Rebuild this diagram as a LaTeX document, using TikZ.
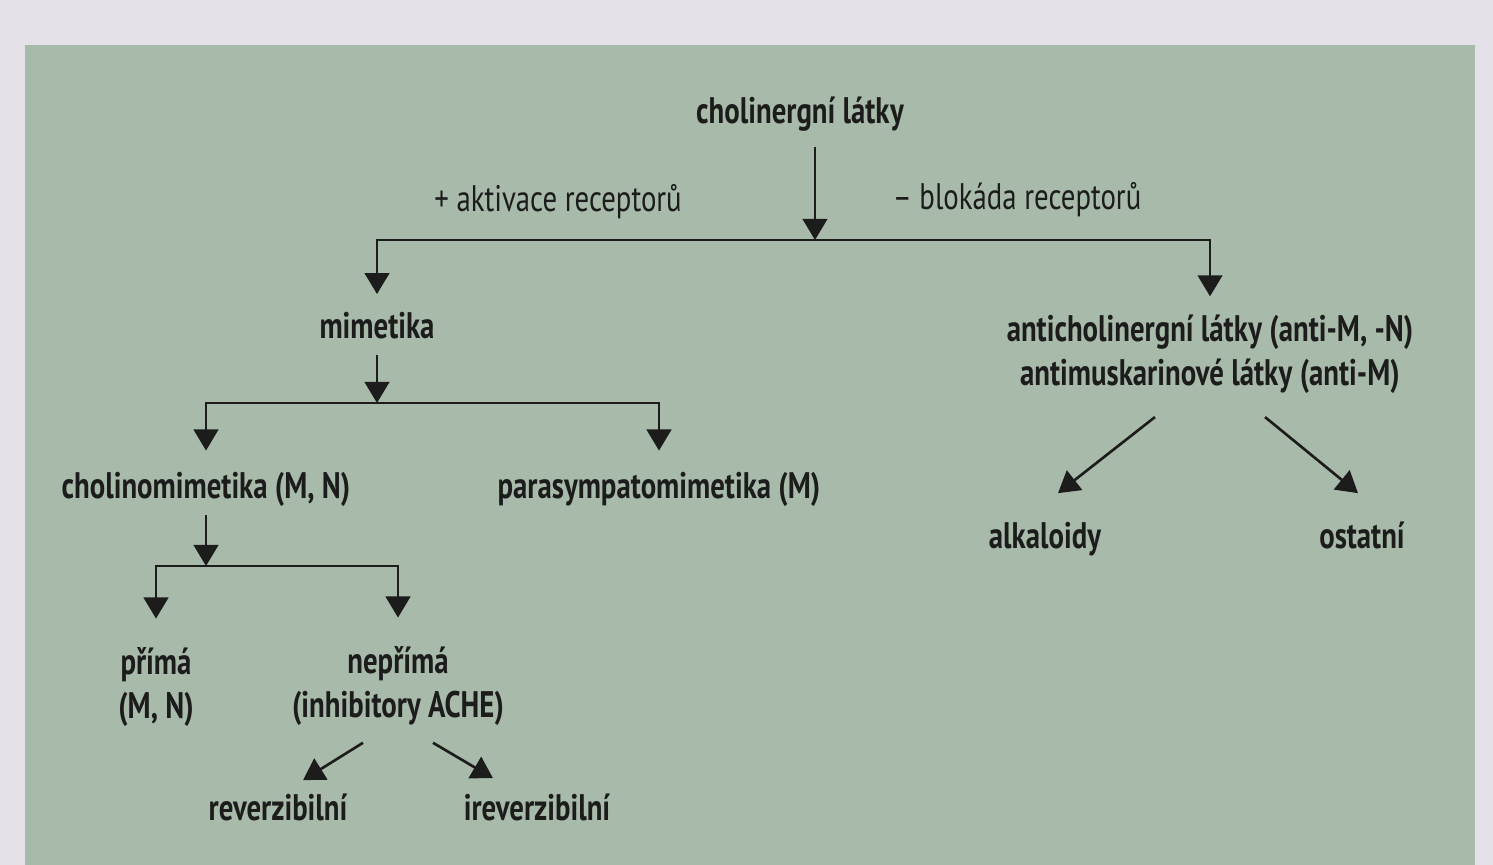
\documentclass[tikz,border=0pt]{standalone}
\usepackage{fontspec}
\setmainfont{PT Sans}[FakeStretch=0.78]
\usetikzlibrary{arrows.meta}
\definecolor{panelgreen}{RGB}{168,187,170}
\definecolor{pagegrey}{RGB}{228,225,232}
\definecolor{inkgrey}{RGB}{28,28,28}
\tikzset{
  box/.style={font=\bfseries\fontsize{10.5}{12.5}\selectfont, align=center,
    inner sep=2pt, text=inkgrey, text height=0.75em, text depth=0.25em},
  twoline/.style={font=\bfseries\fontsize{10.5}{12.5}\selectfont, align=center,
    inner sep=2pt, text=inkgrey},
  note/.style={font=\fontsize{10.5}{12.5}\selectfont, inner sep=2pt,
    text=inkgrey, text height=0.75em, text depth=0.25em},
  link/.style={draw=inkgrey, line width=0.75pt, shorten >=3pt,
    -{Triangle[width=7pt,length=6pt]}},
}
\begin{document}
\begin{tikzpicture}[x=0.01cm, y=-0.01cm]
    \useasboundingbox (0,0) rectangle (1493,865);
    \fill[pagegrey] (0,0) rectangle (1493,865);
    \fill[panelgreen] (25,45) rectangle (1475,865);
    % top level
    \node[box] (root) at (800,115) {cholinergní látky};
    \node[note] (plus) at (558,203) {+ aktivace receptorů};
    \node[note] (minus) at (1017,201) {– blokáda receptorů};
    \coordinate (split) at (815,240);
    \draw [link, shorten >=0pt, shorten <=2pt] (split |- root.south) to (split);
    % mimetika branch
    \node[box] (mim) at (377,330) {mimetika};
    \node[twoline] (anti) at (1210,354) {anticholinergní látky (anti-M, -N)\\antimuskarinové látky (anti-M)};
    \draw [link] (split) -| (mim);
    \draw [link] (split) -| (anti);
    \coordinate (msplit) at (377,403);
    \draw [link, shorten >=0pt] (mim) to (msplit);
    \node[box] (cho) at (206,490) {cholinomimetika (M, N)};
    \node[box] (para) at (659,490) {parasympatomimetika (M)};
    \draw [link, shorten >=4pt] (msplit) -| (cho);
    \draw [link, shorten >=4pt] (msplit) -| (para);
    % direct / indirect
    \coordinate (csplit) at (206,566);
    \draw [link, shorten >=0pt] (cho) to (csplit);
    \node[twoline] (prima) at (156,687) {přímá\\(M, N)};
    \node[twoline] (neprima) at (398,686) {nepřímá\\(inhibitory ACHE)};
    \draw [link, shorten >=6pt] (csplit) -| (prima);
    \draw [link, shorten >=6pt] (csplit) -| (neprima);
    % inhibitors
    \node[box] (rev) at (278,812) {reverzibilní};
    \node[box] (irev) at (537,812) {ireverzibilní};
    \draw [link, shorten >=0pt] ([xshift=-0.35cm, yshift=-0.095cm]neprima.south) to ([xshift=0.25cm, yshift=0.065cm]rev.north);
    \draw [link, shorten >=0pt] ([xshift=0.35cm, yshift=-0.095cm]neprima.south) to ([xshift=-0.44cm, yshift=0.085cm]irev.north);
    % antagonists
    \node[box] (alk) at (1045,540) {alkaloidy};
    \node[box] (ost) at (1362,540) {ostatní};
    \draw [link, shorten >=0pt] ([xshift=-0.55cm, yshift=-0.16cm]anti.south) to ([xshift=0.13cm, yshift=0.215cm]alk.north);
    \draw [link, shorten >=0pt] ([xshift=0.55cm, yshift=-0.16cm]anti.south) to ([xshift=-0.04cm, yshift=0.215cm]ost.north);
\end{tikzpicture}
\end{document}
